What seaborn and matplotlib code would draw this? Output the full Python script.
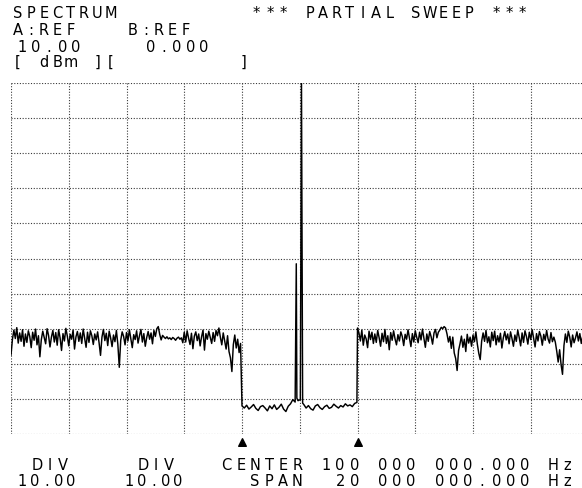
import numpy as np
import pandas as pd
import matplotlib
matplotlib.use("Agg")
import matplotlib.pyplot as plt
import seaborn as sns

# ---- instrument settings ----
center_mhz = 100.0
span_mhz = 20.0
ref_level_dbm = 10.0
db_per_div = 10.0
marker_freqs = [98.0, 102.0]

# ---- swept noise left of the partial sweep window (90.00 .. 97.95 MHz, 50 kHz steps) ----
noise_left = [
    -67.5, -63.0, -60.4, -62.8, -59.7, -64.1, -61.2, -63.6, -60.3, -65.0,
    -61.5, -63.9, -60.6, -62.2, -65.4, -61.0, -63.3, -60.1, -64.6, -62.0,
    -68.0, -63.1, -60.7, -62.5, -64.3, -60.0, -61.9, -65.2, -62.4, -60.5,
    -63.8, -61.1, -64.7, -60.3, -62.6, -66.2, -61.4, -63.5, -59.9, -62.1,
    -64.9, -61.6, -63.0, -60.4, -65.8, -62.3, -60.8, -63.6, -61.2, -64.2,
    -60.1, -62.7, -65.3, -61.0, -63.9, -60.6, -62.0, -64.5, -61.5, -63.2,
    -60.9, -64.0, -67.6, -62.4, -60.2, -63.4, -61.3, -64.8, -60.7, -62.6,
    -65.1, -61.8, -63.7, -60.5, -64.4, -71.0, -63.3, -60.9, -62.2, -64.6,
    -61.1, -63.5, -60.3, -62.9, -65.4, -61.7, -63.1, -60.6, -64.1, -62.0,
    -60.2, -63.8, -61.4, -65.0, -62.5, -60.8, -63.0, -61.2, -64.3, -60.5,
    -62.2, -60.0, -59.4, -61.6, -63.2, -61.9, -62.4, -62.8, -62.3, -62.9,
    -62.6, -63.1, -62.5, -62.8, -63.3, -62.7, -62.4, -63.0, -62.6, -64.0,
    -61.0, -63.8, -60.6, -62.7, -64.5, -61.3, -65.7, -62.1, -60.9, -63.4,
    -61.5, -64.9, -62.3, -60.4, -66.1, -61.4, -63.0, -60.7, -62.5, -64.2,
    -61.1, -63.6, -60.5, -62.0, -59.8, -62.4, -64.6, -61.2, -63.5, -65.8,
    -62.0, -66.5, -68.3, -72.2, -64.5, -61.8, -65.5, -63.0, -66.8, -64.2,
]

# ---- trace inside the partial sweep window (98.00 .. 99.84 MHz, 80 kHz steps) ----
floor_left = [
    -82.0, -82.6, -81.8, -82.9, -82.3, -81.6, -82.7, -83.3, -82.2, -81.9,
    -82.6, -83.4, -82.0, -82.8, -81.7, -83.0, -82.4, -81.5, -82.9, -83.6,
    -82.1, -81.4, -80.2, -80.9,
]

# ---- carrier near the centre frequency ----
carrier_freqs = [99.88, 99.90, 99.94, 100.02, 100.06, 100.10]
carrier_dbm = [-41.5, -79.8, -80.5, -80.2, 10.0, -81.2]

# ---- trace inside the window, right of the carrier (100.14 .. 101.98 MHz) ----
floor_right = [
    -81.6, -82.6, -81.9, -82.8, -83.2, -82.0, -81.6, -82.5, -83.0, -82.2,
    -81.8, -82.7, -82.4, -81.5, -82.1, -82.6, -81.9, -82.3, -81.4, -82.0,
    -81.7, -82.2, -81.3, -81.0,
]

# ---- swept noise right of the window (102.00 .. 110.00 MHz, 50 kHz steps) ----
noise_right = [
    -59.8, -61.2, -63.5, -60.4, -64.7, -61.8, -62.9, -65.4, -60.7, -63.1,
    -61.0, -64.2, -61.5, -63.9, -60.5, -62.6, -65.0, -61.3, -63.7, -60.2,
    -64.2, -62.0, -66.0, -61.1, -63.3, -60.6, -62.9, -64.6, -61.7, -63.5,
    -60.9, -62.2, -64.8, -61.6, -63.0, -60.3, -62.7, -65.1, -61.4, -63.8,
    -60.6, -62.4, -64.0, -61.0, -63.2, -60.1, -62.8, -65.3, -61.5, -63.6,
    -60.8, -62.3, -64.4, -61.2, -60.2, -62.6, -61.0, -60.4, -59.6, -60.0,
    -59.4, -59.8, -61.5, -63.8, -62.2, -65.6, -62.4, -66.9, -68.5, -71.9,
    -66.2, -64.3, -62.1, -65.3, -63.0, -66.5, -61.6, -64.1, -62.4, -65.0,
    -61.8, -63.7, -60.9, -64.4, -67.0, -68.8, -63.5, -61.2, -63.6, -60.5,
    -64.0, -62.3, -65.2, -61.0, -63.4, -60.7, -64.6, -62.0, -63.8, -61.3,
    -65.5, -62.6, -60.8, -63.2, -61.5, -64.3, -60.9, -62.8, -65.0, -61.8,
    -63.6, -60.4, -62.5, -64.9, -61.2, -63.9, -60.6, -62.2, -64.4, -61.0,
    -63.1, -60.3, -62.7, -65.2, -61.4, -63.5, -60.8, -62.1, -64.7, -61.6,
    -63.3, -60.5, -62.9, -64.1, -61.1, -63.7, -62.4, -63.8, -66.4, -69.5,
    -66.0, -70.2, -73.0, -64.8, -61.5, -63.9, -60.7, -62.4, -65.2, -61.8,
    -64.0, -62.6, -60.9, -63.5, -61.4, -64.2, -62.0, -60.6, -63.3, -61.7,
    -63.5,
]

sweep_step = 0.05
floor_step = 0.08
f_left = 90.0 + sweep_step * np.arange(len(noise_left))
f_floor_l = 98.0 + floor_step * np.arange(len(floor_left))
f_floor_r = 100.14 + floor_step * np.arange(len(floor_right))
f_right = 102.0 + sweep_step * np.arange(len(noise_right))

trace = pd.DataFrame({
    "freq": np.concatenate([f_left, f_floor_l, carrier_freqs, f_floor_r, f_right]),
    "level": np.concatenate([noise_left, floor_left, carrier_dbm, floor_right, noise_right]),
})

W, H = 582, 489
fig = plt.figure(figsize=(W / 100, H / 100), dpi=100)
fig.patch.set_facecolor("white")

# graticule: 10 x 10 divisions; right edge runs just past the paper
x0, x1, y0, y1 = 11, 588.5, 84, 435
ax = fig.add_axes([x0 / W, 1 - y1 / H, (x1 - x0) / W, (y1 - y0) / H])
ax.set_facecolor("white")

lo_f = center_mhz - span_mhz / 2
hi_f = center_mhz + span_mhz / 2
bottom_dbm = ref_level_dbm - 10 * db_per_div
ax.set_xlim(lo_f, hi_f)
ax.set_ylim(bottom_dbm, ref_level_dbm)
ax.set_xticks(np.linspace(lo_f, hi_f, 11))
ax.set_yticks(np.linspace(bottom_dbm, ref_level_dbm, 11))
ax.tick_params(length=0, labelbottom=False, labelleft=False)
for s in ax.spines.values():
    s.set_visible(False)
ax.grid(True, color="#3a3a3a", linestyle=(0, (1.0, 1.5)), linewidth=0.8)
ax.set_axisbelow(True)

sns.lineplot(data=trace, x="freq", y="level", estimator=None, sort=False,
             color="black", linewidth=1.05, ax=ax)
ax.set_xlabel("")
ax.set_ylabel("")

# sweep window markers under the graticule
ax.scatter(marker_freqs, [-0.022] * len(marker_freqs), marker="^", s=30,
           color="black", clip_on=False,
           transform=ax.get_xaxis_transform(), zorder=5)

# ---- screen annotations, laid out on the instrument's character grid ----
FONT = dict(family="DejaVu Sans", size=10.5, color="black")
CELL = 9.0


def screen_text(x, baseline, s, pitch):
    for i, ch in enumerate(s):
        if ch == " ":
            continue
        fig.text((x + i * pitch + CELL / 2) / W, 1 - baseline / H, ch,
                 ha="center", va="baseline", **FONT)


hp = 13.3
screen_text(13, 18, "SPECTRUM", hp)
screen_text(252, 18, "*** PARTIAL SWEEP ***", hp)
screen_text(13, 35, "A:REF", hp)
screen_text(128, 35, "B:REF", hp)
screen_text(18, 52, "10.00", hp)
screen_text(146, 52, "0.000", hp)
screen_text(13, 67, "[ dBm ][         ]", hp)

bp = 14.2
screen_text(33, 470, "DIV", 12.5)
screen_text(139, 470, "DIV", 12.5)
screen_text(18, 486, "10.00", 12.0)
screen_text(125, 486, "10.00", 12.0)
screen_text(222, 470, "CENTER 100 000 000.000 Hz", bp)
screen_text(222 + 2 * bp, 486, "SPAN  20 000 000.000 Hz", bp)

fig.savefig("out.png", dpi=100, facecolor="white")
